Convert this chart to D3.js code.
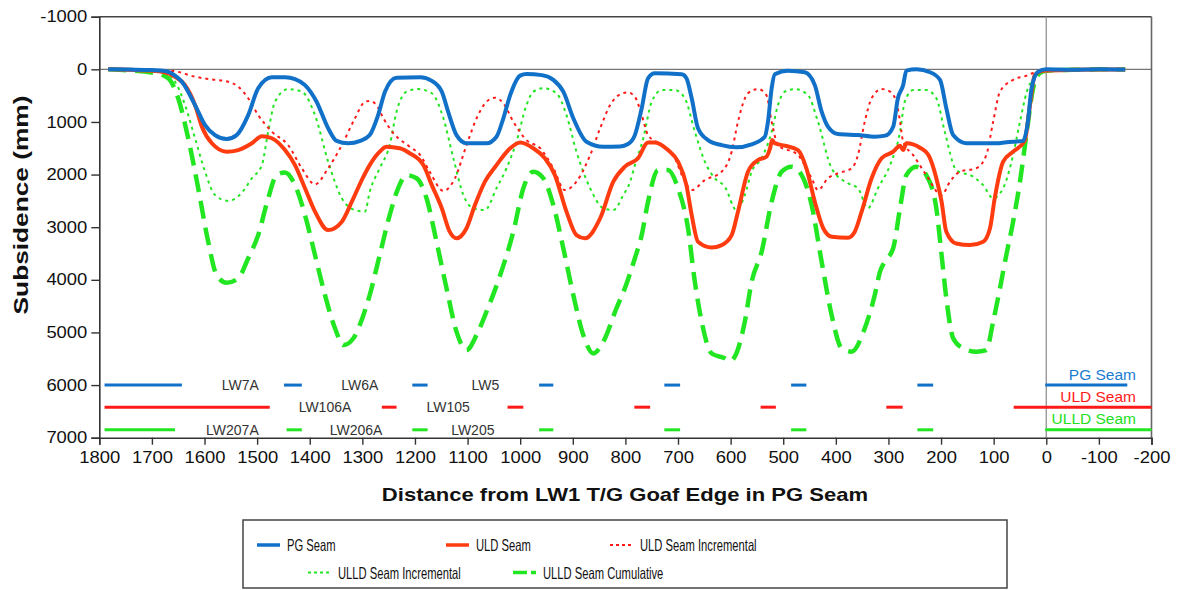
<!DOCTYPE html>
<html lang="en">
<head>
  <meta charset="UTF-8">
  <title>Subsidence</title>
  <script src="https://cdn.jsdelivr.net/npm/d3@7"></script>
  <style>
    body { margin: 0; background: #fff; }
    text { font-family: "Liberation Sans", Arial, sans-serif; }
  </style>
</head>
<body>
  <svg width="1178" height="590"></svg>
  <script>
    // subsidence profiles: [distance (m), subsidence (mm)]
    var pgSeam = [[1783,0],[1740,5],[1700,15],[1675,30],[1656,120],[1643,235],[1618,680],[1599,1060],[1580,1250],[1558,1325],[1539,1250],[1517,870],[1498,360],[1472,150],[1447,150],[1428,185],[1409,300],[1387,615],[1365,1120],[1349,1360],[1327,1405],[1304,1360],[1286,1250],[1270,870],[1257,425],[1235,160],[1190,150],[1168,220],[1149,425],[1137,805],[1121,1250],[1102,1405],[1064,1405],[1045,1280],[1032,930],[1019,490],[1000,120],[988,90],[959,110],[937,200],[918,425],[899,930],[874,1375],[842,1470],[810,1465],[795,1420],[782,1250],[769,740],[757,170],[744,75],[693,95],[684,170],[674,550],[662,1120],[643,1345],[617,1440],[589,1480],[560,1425],[535,1280],[529,995],[522,360],[516,95],[491,25],[459,55],[440,300],[427,805],[415,1090],[396,1230],[358,1250],[326,1280],[306,1260],[291,1090],[282,550],[272,300],[266,25],[247,0],[221,55],[202,200],[190,740],[177,1250],[152,1405],[95,1405],[76,1385],[44,1360],[35,995],[28,360],[16,50],[0,0],[-50,10],[-100,0],[-150,5]];
    var uldSeam = [[1783,0],[1720,20],[1681,45],[1656,140],[1637,300],[1618,680],[1605,1090],[1586,1405],[1558,1565],[1536,1535],[1510,1405],[1491,1270],[1472,1310],[1447,1535],[1428,1820],[1409,2260],[1390,2705],[1365,3055],[1339,2895],[1320,2515],[1300,2080],[1286,1820],[1267,1565],[1254,1470],[1229,1500],[1210,1595],[1184,1820],[1168,2200],[1149,2640],[1134,3085],[1121,3210],[1102,3020],[1086,2580],[1067,2135],[1045,1820],[1019,1500],[1000,1390],[975,1500],[953,1690],[934,2010],[912,2705],[893,3150],[877,3210],[848,2830],[823,2135],[801,1850],[776,1690],[757,1390],[744,1390],[719,1535],[700,1755],[684,2200],[674,2770],[662,3275],[636,3385],[617,3340],[598,3150],[586,2705],[567,1945],[548,1725],[532,1660],[525,1500],[521,1345],[516,1405],[497,1450],[472,1535],[456,1880],[440,2515],[424,3020],[408,3180],[377,3200],[364,3085],[351,2705],[332,2070],[313,1690],[291,1565],[278,1450],[272,1535],[266,1405],[240,1490],[224,1630],[209,2070],[199,2515],[190,3085],[171,3310],[145,3340],[120,3275],[107,3020],[98,2450],[82,1755],[63,1565],[41,1360],[31,680],[22,110],[6,25],[-50,10],[-100,5],[-150,5]];
    var uldIncremental = [[1783,0],[1662,30],[1618,140],[1593,185],[1555,235],[1536,330],[1517,550],[1498,870],[1472,1185],[1441,1440],[1415,1880],[1390,2185],[1365,1880],[1339,1440],[1314,930],[1295,615],[1286,600],[1273,680],[1260,930],[1241,1215],[1210,1470],[1190,1630],[1172,1945],[1146,2310],[1124,2070],[1102,1440],[1080,870],[1064,615],[1048,540],[1032,645],[1013,995],[988,1345],[962,1500],[937,1880],[915,2295],[893,2135],[867,1630],[848,1120],[829,680],[810,475],[795,440],[782,520],[769,870],[757,1250],[731,1440],[706,1690],[690,2070],[674,2295],[649,2105],[617,1945],[598,1565],[586,995],[567,455],[548,375],[532,490],[522,995],[510,1440],[472,1630],[446,2070],[434,2295],[415,2070],[396,1975],[370,1880],[358,1630],[345,995],[332,550],[313,375],[297,425],[285,615],[278,995],[272,1375],[253,1630],[228,2010],[199,2390],[183,2135],[164,1945],[133,1880],[114,1630],[101,995],[88,425],[63,200],[37,120],[12,25],[-50,10],[-100,0],[-150,5]];
    var ulldIncremental = [[1783,0],[1681,45],[1656,235],[1637,680],[1618,1310],[1599,1945],[1580,2390],[1555,2500],[1530,2355],[1510,2070],[1491,1820],[1479,1185],[1466,615],[1441,375],[1415,425],[1390,870],[1365,1755],[1339,2450],[1314,2675],[1295,2705],[1286,2325],[1267,1880],[1248,1440],[1235,805],[1216,425],[1194,375],[1168,455],[1146,930],[1127,1690],[1108,2390],[1089,2640],[1067,2675],[1045,2260],[1026,1880],[1007,1375],[988,680],[975,425],[956,360],[931,455],[912,870],[893,1565],[867,2260],[842,2640],[823,2675],[804,2390],[791,2135],[782,1820],[766,1310],[750,615],[731,395],[706,395],[687,550],[668,1185],[649,1755],[630,2070],[611,2230],[589,2675],[573,2390],[560,1945],[541,1690],[522,1185],[510,680],[497,425],[478,375],[453,490],[434,995],[408,1880],[377,2165],[358,2260],[339,2640],[320,2260],[297,1820],[278,1185],[269,615],[253,395],[228,395],[209,550],[193,1185],[171,1915],[139,2040],[120,2200],[101,2450],[82,2260],[66,1755],[50,995],[37,425],[22,145],[6,25],[-50,10],[-100,0],[-150,5]];
    var ulldCumulative = [[1783,0],[1694,70],[1669,170],[1650,550],[1631,1310],[1612,2260],[1593,3275],[1577,3910],[1558,4055],[1536,3970],[1517,3590],[1498,3150],[1479,2450],[1463,2010],[1447,1960],[1428,2200],[1409,2770],[1390,3530],[1371,4290],[1352,4920],[1336,5240],[1317,5110],[1305,4860],[1286,4290],[1267,3530],[1248,2770],[1232,2260],[1216,2010],[1197,2070],[1178,2450],[1159,3275],[1140,4160],[1121,4985],[1102,5335],[1083,5050],[1064,4605],[1038,3910],[1013,3085],[994,2260],[975,1945],[956,2070],[937,2580],[918,3400],[899,4290],[880,5050],[861,5400],[842,5175],[817,4540],[801,4160],[782,3590],[769,3150],[757,2515],[738,1915],[719,1915],[700,2260],[681,3020],[668,4035],[655,4795],[636,5400],[611,5490],[601,5545],[592,5460],[573,4795],[560,4035],[541,3465],[522,2515],[503,1945],[484,1850],[465,2010],[446,2580],[427,3655],[408,4670],[389,5300],[370,5365],[345,4920],[326,4290],[316,3845],[307,3655],[291,3400],[278,2640],[266,2010],[247,1850],[228,2010],[209,2640],[199,3530],[190,4350],[177,5110],[158,5300],[133,5365],[114,5335],[101,4795],[88,4160],[76,3530],[63,2895],[50,2135],[37,1185],[25,360],[12,70],[0,25],[-50,10],[-100,0],[-150,5]];

    // longwall panel edges: [from, to] along distance axis
    var pgPanels = [[1790,1643],[1449,1415],[1205,1176],[964,937],[726,696],[485,456],[245,215],[2,-154]];
    var uldPanels = [[1790,1476],[1263,1235],[1024,994],[783,753],[543,514],[304,273],[62,-200]];
    var ulldPanels = [[1790,1656],[1444,1415],[1205,1176],[964,937],[726,696],[485,456],[245,215],[2,-200]];
    var pgLabels = [['LW7A',1532],['LW6A',1305],['LW5',1066]];
    var uldLabels = [['LW106A',1371],['LW105',1137]];
    var ulldLabels = [['LW207A',1547],['LW206A',1312],['LW205',1090]];
    var rowLevels = [6000, 6420, 6850];
    var seamNames = ['PG Seam', 'ULD Seam', 'ULLD Seam'];

    var xTicks = d3.range(1800, -201, -100);
    var yTicks = d3.range(-1000, 7001, 1000);

    var svg = d3.select('svg');
    var x = d3.scaleLinear().domain([1800, -200]).range([99.3, 1151.5]);
    var y = d3.scaleLinear().domain([-1000, 7000]).range([16.7, 437.7]);

    function stretch(sel, f) {
      sel.each(function() {
        var w = this.getComputedTextLength();
        d3.select(this).attr('textLength', w * f).attr('lengthAdjust', 'spacingAndGlyphs');
      });
    }

    // frame and reference lines
    svg.append('line').attr('x1', x(1800)).attr('x2', x(-200)).attr('y1', y(-1000)).attr('y2', y(-1000))
      .attr('stroke', '#444').attr('stroke-width', 1.6);
    svg.append('line').attr('x1', x(-200)).attr('x2', x(-200)).attr('y1', y(-1000)).attr('y2', y(7000))
      .attr('stroke', '#666').attr('stroke-width', 1.6);
    svg.append('line').attr('x1', x(1800)).attr('x2', x(-200)).attr('y1', y(0)).attr('y2', y(0))
      .attr('stroke', '#555').attr('stroke-width', 1);
    svg.append('line').attr('x1', x(0)).attr('x2', x(0)).attr('y1', y(-1000)).attr('y2', y(7000))
      .attr('stroke', '#999').attr('stroke-width', 1.4);

    var xAxis = svg.append('g')
      .attr('transform', 'translate(0,' + y(7000) + ')')
      .call(d3.axisBottom(x).tickValues(xTicks).tickSize(7).tickPadding(7).tickFormat(function(d) { return String(d); }));
    var yAxis = svg.append('g')
      .attr('transform', 'translate(' + x(1800) + ',0)')
      .call(d3.axisLeft(y).tickValues(yTicks).tickSize(8).tickPadding(4).tickFormat(function(d) { return String(d); }));
    [xAxis, yAxis].forEach(function(a) {
      a.select('.domain').attr('stroke', '#333').attr('stroke-width', 1.6);
      a.selectAll('.tick line').attr('stroke', '#333').attr('stroke-width', 1.4);
      a.selectAll('.tick text').attr('fill', '#111').style('font-size', '16px')
        .style('font-family', '"Liberation Sans", Arial, sans-serif');
      stretch(a.selectAll('.tick text'), 1.15);
    });

    var xt = svg.append('text').attr('x', 625).attr('y', 501).attr('text-anchor', 'middle')
      .style('font-size', '19px').style('font-weight', 'bold').attr('fill', '#111')
      .text('Distance from LW1 T/G Goaf Edge in PG Seam');
    stretch(xt, 1.16);
    var yt = svg.append('text').attr('transform', 'translate(28,205) rotate(-90)').attr('text-anchor', 'middle')
      .style('font-size', '21px').style('font-weight', 'bold').attr('fill', '#111')
      .text('Subsidence (mm)');
    stretch(yt, 1.25);

    // curves
    var line = d3.line().x(function(d) { return x(d[0]); }).y(function(d) { return y(d[1]); })
      .curve(d3.curveMonotoneX);
    var series = [
      {data: ulldCumulative, color: '#22e622', width: 4.5, dash: '18 9'},
      {data: ulldIncremental, color: '#22e622', width: 2, dash: '3 4'},
      {data: uldIncremental, color: '#ff1a1a', width: 2, dash: '3 4'},
      {data: uldSeam, color: '#ff3c10', width: 4, dash: null},
      {data: pgSeam, color: '#1170c8', width: 4, dash: null}
    ];
    series.forEach(function(s) {
      svg.append('path').datum(s.data).attr('d', line).attr('fill', 'none')
        .attr('stroke', s.color).attr('stroke-width', s.width)
        .attr('stroke-dasharray', s.dash).attr('stroke-linejoin', 'round');
    });

    // panel rows
    var rowColors = ['#1170c8', '#ff1a1a', '#22e622'];
    var textColors = ['#1a7dd0', '#ff1a1a', '#1ee01e'];
    [pgPanels, uldPanels, ulldPanels].forEach(function(panels, i) {
      svg.append('g').selectAll('line').data(panels).join('line')
        .attr('x1', function(d) { return x(d[0]); }).attr('x2', function(d) { return x(d[1]); })
        .attr('y1', y(rowLevels[i])).attr('y2', y(rowLevels[i]))
        .attr('stroke', rowColors[i]).attr('stroke-width', 3);
    });
    [pgLabels, uldLabels, ulldLabels].forEach(function(labels, i) {
      svg.append('g').selectAll('text').data(labels).join('text')
        .attr('x', function(d) { return x(d[1]); }).attr('y', y(rowLevels[i]) + 5)
        .attr('text-anchor', 'middle').style('font-size', '14px').attr('fill', '#333')
        .text(function(d) { return d[0]; });
    });
    svg.append('g').selectAll('text').data(seamNames).join('text')
      .attr('x', 1136).attr('y', function(d, i) { return y(rowLevels[i]) - 5.5; })
      .attr('text-anchor', 'end').style('font-size', '15.5px')
      .attr('fill', function(d, i) { return textColors[i]; })
      .text(function(d) { return d; });

    // legend
    svg.append('rect').attr('x', 243).attr('y', 520).attr('width', 764).attr('height', 68)
      .attr('fill', 'none').attr('stroke', '#444').attr('stroke-width', 1.5);
    var legendItems = [
      {name: 'PG Seam', x: 257, y: 545, s: series[4]},
      {name: 'ULD Seam', x: 446, y: 545, s: series[3]},
      {name: 'ULD Seam Incremental', x: 610, y: 545, s: series[2]},
      {name: 'ULLD Seam Incremental', x: 308, y: 572.5, s: series[1]},
      {name: 'ULLD Seam Cumulative', x: 513, y: 572.5, s: series[0]}
    ];
    var lg = svg.append('g').selectAll('g').data(legendItems).join('g');
    lg.append('line').attr('x1', function(d) { return d.x; }).attr('x2', function(d) { return d.x + 23; })
      .attr('y1', function(d) { return d.y; }).attr('y2', function(d) { return d.y; })
      .attr('stroke', function(d) { return d.s.color; })
      .attr('stroke-width', function(d) { return d.s.width > 3 ? 3.5 : 2; })
      .attr('stroke-dasharray', function(d) { return d.s.dash ? (d.s.width > 3 ? '14 4' : '3 3') : null; });
    var lt = lg.append('text').attr('x', function(d) { return d.x + 30; }).attr('y', function(d) { return d.y + 6; })
      .style('font-size', '16.5px').attr('fill', '#111').text(function(d) { return d.name; });
    stretch(lt, 0.68);
  </script>
</body>
</html>
